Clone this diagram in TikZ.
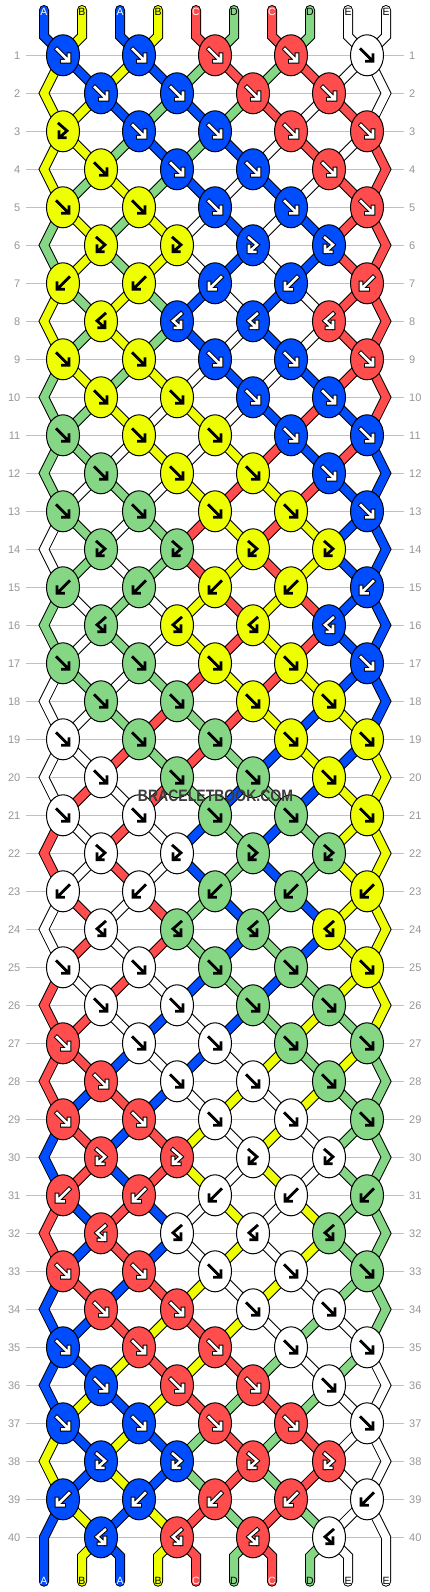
\documentclass[tikz,border=0pt]{standalone}
\usepackage{fontspec}
\setmainfont{Liberation Sans}
\usetikzlibrary{shapes.geometric}
\definecolor{cb}{RGB}{0,76,255}
\definecolor{cy}{RGB}{238,255,0}
\definecolor{cr}{RGB}{255,77,77}
\definecolor{cg}{RGB}{133,214,133}
\definecolor{cw}{RGB}{255,255,255}
\definecolor{gridgray}{RGB}{192,192,192}
\definecolor{numgray}{RGB}{150,150,150}
\definecolor{wmgray}{RGB}{60,60,60}
\newif\ifdarkknot
\def\cbn{cb}
\def\crn{cr}
\newcommand\strseg[2]{%
  \ifcase\passmode\or
    \draw[line width=10pt,black,line cap=round,line join=miter] #2;\or
    \draw[line width=8pt,color=#1,line cap=round,line join=miter] #2;\else\fi}
\begin{document}
\begin{tikzpicture}[x=1pt,y=-1pt,
  knot/.style={ellipse,draw=black,line width=1pt,minimum width=33pt,minimum height=41pt,inner sep=0pt},
  rowline/.style={draw=gridgray,line width=1pt},
  rownum/.style={text=numgray,font=\fontsize{11}{13}\selectfont,inner sep=0pt},
  strlabel/.style={font=\fontsize{10.5}{12}\selectfont,inner sep=0pt,anchor=base},
  arrowout/.style={black,line width=4.6pt,line cap=rect,line join=miter},
  arrowin/.style={white,line width=2.6pt,line cap=rect,line join=miter},
  arrowblk/.style={black,line width=2.8pt,line cap=rect,line join=miter}]
\useasboundingbox (0,0) rectangle (430,1592);
\fill[white] (0,0) rectangle (430,1592);
% knot positions, edge points, row lines and numbers
\foreach \rw in {1,...,40}{
  \pgfmathsetmacro\y{55.3+38*(\rw-1)}
  \ifodd\rw
    \foreach \j in {0,...,4}{\coordinate (c-\rw-\j) at ({63+76*\j},\y);}
  \else
    \foreach \j in {0,...,3}{\coordinate (c-\rw-\j) at ({101+76*\j},\y);}
    \coordinate (e-\rw-L) at (44,\y);
    \coordinate (e-\rw-R) at (386,\y);
  \fi
  \draw[rowline] (26,\y) -- (404,\y);
  \node[rownum,anchor=east] (nl-\rw) at (20.5,\y) {\rw};
  \node[rownum,anchor=west] (nr-\rw) at (409,\y) {\rw};
}
\foreach \p in {0,...,9}{
  \coordinate (t-\p) at ({44+38*\p},10);
  \coordinate (tb-\p) at ({44+38*\p},36.3);
  \coordinate (bb-\p) at ({44+38*\p},1556.3);
  \coordinate (b-\p) at ({44+38*\p},1581.7);
}
% three passes: string outlines, string colours, knots
\foreach \passmode in {1,2,3}{
\foreach \p/\colname in {0/cb,1/cy,2/cb,3/cy,4/cr,5/cg,6/cr,7/cg,8/cw,9/cw}{%
  \expandafter\xdef\csname sc\p\endcsname{\colname}}
\foreach \rw in {1,...,40}{
  \pgfmathtruncatemacro\rp{\rw-1}
  \pgfmathtruncatemacro\rr{\rw-2}
  \ifodd\rw
    \foreach \p in {0,...,9}{
      \pgfmathtruncatemacro\jj{\p/2}
      \edef\scol{\csname sc\p\endcsname}
      \ifnum\rw=1
        \strseg{\scol}{(t-\p)--(tb-\p)--(c-1-\jj)}
      \else
        \ifnum\p=0
          \strseg{\scol}{(c-\rr-0)--(e-\rp-L)--(c-\rw-0)}
        \else
          \ifnum\p=9
            \strseg{\scol}{(c-\rr-4)--(e-\rp-R)--(c-\rw-4)}
          \else
            \pgfmathtruncatemacro\jm{(\p-1)/2}
            \strseg{\scol}{(c-\rp-\jm)--(c-\rw-\jj)}
          \fi
        \fi
      \fi
    }
  \else
    \foreach \p in {1,...,8}{
      \pgfmathtruncatemacro\jj{\p/2}
      \pgfmathtruncatemacro\jm{(\p-1)/2}
      \edef\scol{\csname sc\p\endcsname}
      \strseg{\scol}{(c-\rp-\jj)--(c-\rw-\jm)}
    }
  \fi
  \ifodd\rw \def\nk{4}\def\off{0}\else \def\nk{3}\def\off{1}\fi
  \pgfmathtruncatemacro\rowm{mod(\rw-1,8)}
  \foreach \j in {0,...,\nk}{
    \pgfmathtruncatemacro\lp{2*\j+\off}
    \pgfmathtruncatemacro\rpos{\lp+1}
    \ifnum\rowm<5 \def\ty{1}\else\ifnum\rowm=5 \def\ty{3}\else\ifnum\rowm=6 \def\ty{2}\else\def\ty{4}\fi\fi\fi
    \ifnum\rw=3 \ifnum\j=0 \def\ty{3}\fi\fi
    \ifodd\ty \edef\kc{\csname sc\lp\endcsname}\else \edef\kc{\csname sc\rpos\endcsname}\fi
    \ifnum\passmode=3
      \node[knot,fill=\kc] (k-\rw-\j) at (c-\rw-\j) {};
      \darkknotfalse
      \ifx\kc\cbn\darkknottrue\fi
      \ifx\kc\crn\darkknottrue\fi
      \ifcase\ty\or
        \def\arp{(-6,-6)--(5,5) (-0.5,6)--(6,6)--(6,-0.5)}\or
        \def\arp{(6,-6)--(-5,5) (0.5,6)--(-6,6)--(-6,-0.5)}\or
        \def\arp{(-4,-7.5)--(4,-0.5)--(-3.3,6) (2.2,6.5)--(-4,6.5)--(-4,0.5)}\or
        \def\arp{(4,-7.5)--(-4,-0.5)--(3.3,6) (-2.2,6.5)--(4,6.5)--(4,0.5)}\fi
      \begin{scope}[shift={(c-\rw-\j)}]
        \ifdarkknot
          \draw[arrowout] \arp;
          \draw[arrowin] \arp;
        \else
          \draw[arrowblk] \arp;
        \fi
      \end{scope}
    \fi
    \ifnum\ty<3
      \edef\tA{\csname sc\lp\endcsname}%
      \edef\tB{\csname sc\rpos\endcsname}%
      \expandafter\xdef\csname sc\lp\endcsname{\tB}%
      \expandafter\xdef\csname sc\rpos\endcsname{\tA}%
    \fi
  }
}
% bottom ends
\foreach \p in {0,...,9}{
  \edef\scol{\csname sc\p\endcsname}
  \ifnum\p=0
    \strseg{\scol}{(c-39-0)--(e-40-L)--(b-0)}
  \else
    \ifnum\p=9
      \strseg{\scol}{(c-39-4)--(e-40-R)--(b-9)}
    \else
      \pgfmathtruncatemacro\jm{(\p-1)/2}
      \strseg{\scol}{(c-40-\jm)--(bb-\p)--(b-\p)}
    \fi
  \fi
}
}
% string labels
\foreach \p/\lab/\lc in {0/A/white,1/B/black,2/A/white,3/B/black,4/C/white,5/D/black,6/C/white,7/D/black,8/E/black,9/E/black}{
  \node[strlabel,text=\lc] (lt-\p) at ({44+38*\p},16) {\lab};
  \node[strlabel,text=\lc] (lb-\p) at ({44+38*\p},1584.5) {\lab};
}
\node[font=\bfseries\fontsize{16.5}{18}\selectfont,text=wmgray,inner sep=0pt] (wm) at (215.5,795.5) {\scalebox{0.85}[1]{BRACELETBOOK.COM}};
\end{tikzpicture}
\end{document}
